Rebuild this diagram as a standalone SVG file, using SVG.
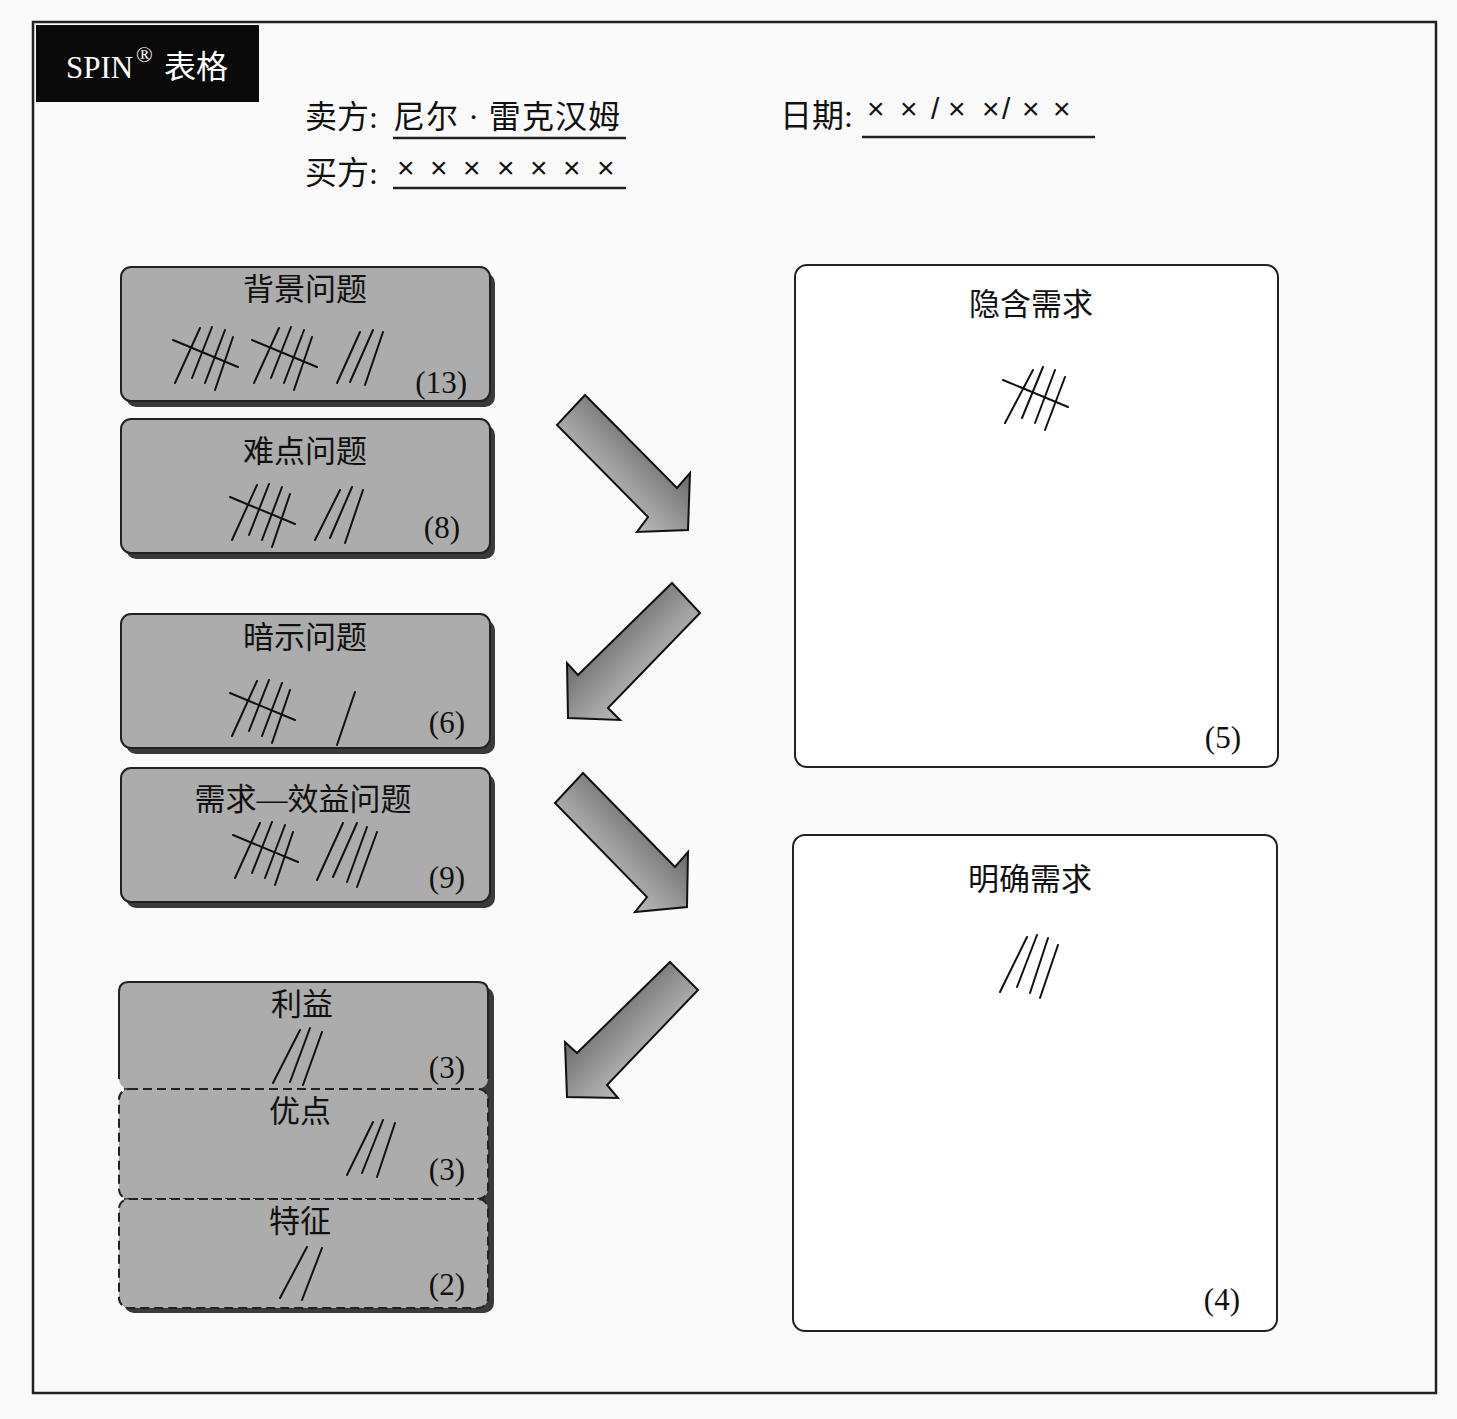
<svg xmlns="http://www.w3.org/2000/svg" xmlns:xlink="http://www.w3.org/1999/xlink" width="1457" height="1419" viewBox="0 0 1457 1419">
<style>
.cjk{font-family:"Liberation Serif","Noto Sans CJK SC",serif;fill:#111}
.title{font-size:31px;text-anchor:middle}
.num{font-family:"Liberation Serif",serif;font-size:31px;fill:#111;text-anchor:end}
.hd{font-size:32px}
.x{font-family:"Liberation Sans",sans-serif;font-size:30px;fill:#111}
.ul{stroke:#222;stroke-width:2.5}
.box{fill:#acacac;stroke:#222;stroke-width:2}
.dash{fill:none;stroke:#222;stroke-width:2;stroke-dasharray:9 5}
.shadow{fill:#3a3a3a}
.wbox{fill:#fff;stroke:#222;stroke-width:2}
.t{stroke:#111;stroke-width:2;stroke-linecap:round;fill:none}
.arr{stroke:#111;stroke-width:2;stroke-linejoin:miter}
</style>
<defs>
<linearGradient id="gdr" x1="0" y1="1" x2="1" y2="0">
<stop offset="0" stop-color="#eeeeee"/><stop offset="0.45" stop-color="#a0a0a0"/><stop offset="1" stop-color="#2e2e2e"/>
</linearGradient>
<linearGradient id="gdl" x1="1" y1="1" x2="0" y2="0">
<stop offset="0" stop-color="#eeeeee"/><stop offset="0.45" stop-color="#a0a0a0"/><stop offset="1" stop-color="#2e2e2e"/>
</linearGradient>
<g id="t5" class="t">
<path d="M27 1L2 56M39 0L19 51M52 3L32 56M60 10L42 63M0 13L65 40"/>
</g>
</defs>

<rect x="0" y="0" width="1457" height="1419" fill="#fafafa"/>
<rect x="33" y="22" width="1403" height="1371" fill="none" stroke="#222" stroke-width="2.5"/>

<g id="header">
<rect x="36" y="25" width="223" height="77" fill="#0a0a0a"/>
<text x="66" y="78" font-family="Liberation Serif,serif" font-size="31" fill="#fff">SPIN<tspan x="136" y="62" font-size="22">®</tspan><tspan x="164" y="78" font-family="Liberation Serif,Noto Sans CJK SC,serif" font-size="32">表格</tspan></text>
</g>

<g id="seller">
<text class="cjk hd" x="305" y="128">卖方:</text>
<text class="cjk hd" x="393" y="128" textLength="227" lengthAdjust="spacing">尼尔 · 雷克汉姆</text>
<line class="ul" x1="393" y1="138" x2="626" y2="138"/>
</g>
<g id="buyer">
<text class="cjk hd" x="305" y="184">买方:</text>
<text class="x" x="397 430 463 497 530 563 597" y="178">×××××××</text>
<line class="ul" x1="393" y1="188" x2="626" y2="188"/>
</g>
<g id="date">
<text class="cjk hd" x="780" y="127">日期:</text>
<text class="x" x="867 900 931 948 982 1002 1022 1053" y="119">××/××/××</text>
<line class="ul" x1="862" y1="137" x2="1095" y2="137"/>
</g>

<g id="situation">
<rect class="shadow" x="126" y="273" width="369" height="134" rx="10"/>
<rect class="box" x="121" y="267" width="369" height="134" rx="10"/>
<text class="cjk title" x="305" y="300">背景问题</text>
<use xlink:href="#t5" x="173" y="327"/>
<use xlink:href="#t5" x="252" y="327"/>
<path class="t" d="M360 332L337 383M373 330L350 382M383 332L365 385"/>
<text class="num" x="467" y="393">(13)</text>
</g>

<g id="problem">
<rect class="shadow" x="126" y="425" width="369" height="134" rx="10"/>
<rect class="box" x="121" y="419" width="369" height="134" rx="10"/>
<text class="cjk title" x="305" y="462">难点问题</text>
<use xlink:href="#t5" x="230" y="484"/>
<path class="t" d="M340 490L315 540M352 487L330 538M363 490L345 543"/>
<text class="num" x="460" y="538">(8)</text>
</g>

<g id="implication">
<rect class="shadow" x="126" y="620" width="369" height="134" rx="10"/>
<rect class="box" x="121" y="614" width="369" height="134" rx="10"/>
<text class="cjk title" x="305" y="648">暗示问题</text>
<use xlink:href="#t5" x="230" y="680"/>
<path class="t" d="M355 692L337 745"/>
<text class="num" x="465" y="733">(6)</text>
</g>

<g id="need-payoff">
<rect class="shadow" x="126" y="774" width="369" height="134" rx="10"/>
<rect class="box" x="121" y="768" width="369" height="134" rx="10"/>
<text class="cjk title" x="303" y="810">需求—效益问题</text>
<use xlink:href="#t5" x="233" y="822"/>
<path class="t" d="M343 823L317 880M357 823L333 877M367 827L347 882M377 832L357 887"/>
<text class="num" x="465" y="888">(9)</text>
</g>

<rect class="shadow" x="124" y="987" width="370" height="326" rx="10"/>

<g id="benefits">
<rect x="119" y="982" width="369" height="107" rx="10" fill="#acacac"/>
<path d="M119 1079V992Q119 982 129 982H478Q488 982 488 992V1079" fill="none" stroke="#222" stroke-width="2"/>
<text class="cjk title" x="302" y="1015">利益</text>
<path class="t" d="M300 1030L273 1083M310 1028L290 1082M322 1032L303 1085"/>
<text class="num" x="465" y="1078">(3)</text>
</g>

<g id="advantages">
<rect x="119" y="1089" width="369" height="110" rx="10" fill="#acacac"/>
<rect class="dash" x="119" y="1089" width="369" height="110" rx="10"/>
<text class="cjk title" x="300" y="1122">优点</text>
<path class="t" d="M373 1122L347 1175M383 1120L362 1173M395 1123L377 1177"/>
<text class="num" x="465" y="1180">(3)</text>
</g>

<g id="features">
<rect x="119" y="1199" width="369" height="109" rx="10" fill="#acacac"/>
<rect class="dash" x="119" y="1199" width="369" height="109" rx="10"/>
<text class="cjk title" x="300" y="1232">特征</text>
<path class="t" d="M307 1247L280 1298M322 1248L302 1300"/>
<text class="num" x="465" y="1295">(2)</text>
</g>

<g id="implied-needs">
<rect class="wbox" x="795" y="265" width="483" height="502" rx="12"/>
<text class="cjk title" x="1031" y="315">隐含需求</text>
<path class="t" d="M1033 370L1005 423M1043 367L1022 418M1055 370L1035 423M1065 377L1045 430M1003 380L1068 407"/>
<text class="num" x="1241" y="748">(5)</text>
</g>

<g id="explicit-needs">
<rect class="wbox" x="793" y="835" width="484" height="496" rx="12"/>
<text class="cjk title" x="1030" y="890">明确需求</text>
<path class="t" d="M1027 937L1000 992M1037 935L1017 987M1048 938L1030 993M1058 945L1040 998"/>
<text class="num" x="1240" y="1310">(4)</text>
</g>

<g id="connectors">
<polygon class="arr" fill="url(#gdr)" points="585,395 677,488 690,473 688,530 637,532 648,517 557,425"/>
<polygon class="arr" fill="url(#gdl)" points="672,583 700,613 608,708 620,720 568,718 567,663 578,675"/>
<polygon class="arr" fill="url(#gdr)" points="583,773 675,867 688,852 687,907 635,912 647,897 555,803"/>
<polygon class="arr" fill="url(#gdl)" points="670,962 698,990 607,1085 618,1098 567,1097 565,1042 577,1053"/>
</g>
</svg>
